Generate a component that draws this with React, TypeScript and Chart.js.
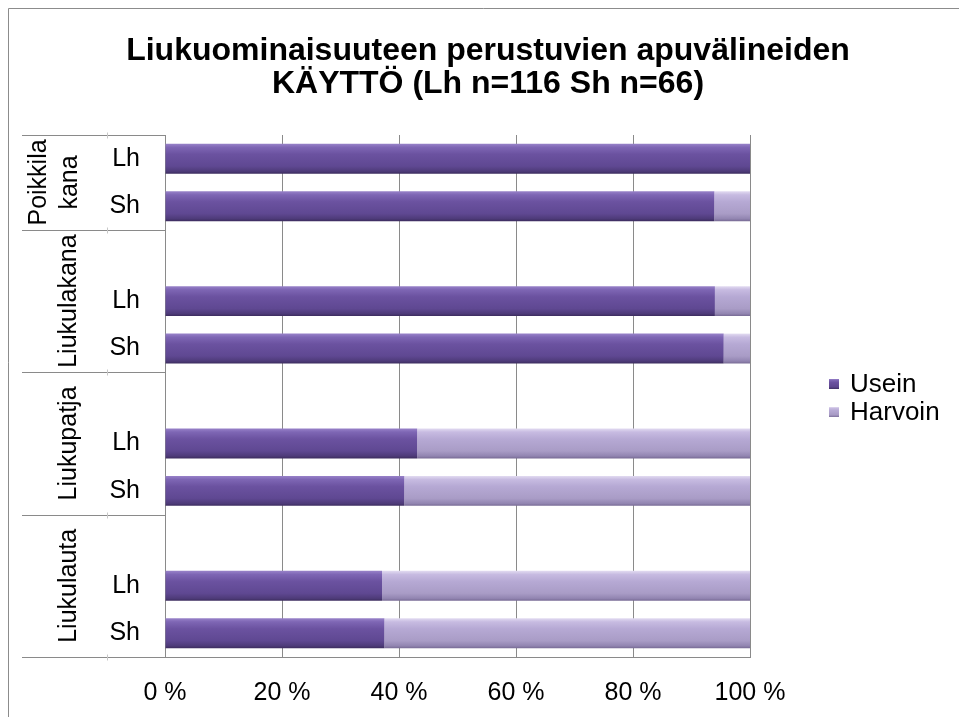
import React, { useEffect, useRef } from "react";
import { Chart, registerables } from "chart.js";

Chart.register(...registerables);

// ---- data ----
const titleLines = ["Liukuominaisuuteen perustuvien apuvälineiden", "KÄYTTÖ (Lh n=116 Sh n=66)"];
const rowLabels = ["Lh", "Sh", "", "Lh", "Sh", "", "Lh", "Sh", "", "Lh", "Sh"];
const groupLabelLines = [["Poikkila", "kana"], ["Liukulakana"], ["Liukupatja"], ["Liukulauta"]];
const groupFirstRow = [0, 2, 5, 8];
const groupLastRow = [1, 4, 7, 10];
const useinValues = [100, 93.9, null, 94.0, 95.5, null, 43.1, 40.9, null, 37.1, 37.5];
const harvoinValues = [0, 6.1, null, 6.0, 4.5, null, 56.9, 59.1, null, 62.9, 62.5];
const seriesNames = ["Usein", "Harvoin"];
const xTickValues = [0, 20, 40, 60, 80, 100];

const FONT = "'Liberation Sans', Arial, sans-serif";
const GRID = "#8a8a8a";

const useinStops: [number, string][] = [
  [0, "#9882c9"], [0.12, "#7e66b4"], [0.35, "#6b52a0"], [0.75, "#5f4892"], [0.92, "#4e3b79"], [1, "#3c2c5e"],
];
const harvoinStops: [number, string][] = [
  [0, "#e2dbf1"], [0.12, "#c7bbe1"], [0.35, "#b6a9d4"], [0.75, "#a99cc6"], [0.92, "#9285b1"], [1, "#776a94"],
];

const BAR_FRACTION = 0.63;

function barFill(stops: [number, string][]) {
  return (ctx: any) => {
    const chart = ctx.chart;
    const y = chart.scales && chart.scales.y;
    if (ctx.type !== "data" || !y || !chart.chartArea) return stops[2][1];
    const c = y.getPixelForValue(ctx.dataIndex);
    const h = (y.height / rowLabels.length) * BAR_FRACTION;
    const g = chart.ctx.createLinearGradient(0, c - h / 2, 0, c + h / 2);
    stops.forEach(([o, col]) => g.addColorStop(o, col));
    return g;
  };
}

const decorPlugin = {
  id: "decor",
  beforeDraw(chart: any) {
    const { ctx, width, height } = chart;
    ctx.save();
    ctx.fillStyle = "#ffffff";
    ctx.fillRect(0, 0, width, height);
    ctx.strokeStyle = "#8c8c8c";
    ctx.lineWidth = 1;
    ctx.beginPath();
    ctx.moveTo(8.5, height);
    ctx.lineTo(8.5, 8.5);
    ctx.lineTo(width, 8.5);
    ctx.stroke();
    ctx.restore();
  },
  afterDraw(chart: any) {
    const { ctx, chartArea } = chart;
    const y = chart.scales.y;
    const rowH = y.height / rowLabels.length;
    ctx.save();
    // title
    ctx.fillStyle = "#000";
    ctx.font = `bold 32px ${FONT}`;
    ctx.textAlign = "center";
    ctx.textBaseline = "middle";
    titleLines.forEach((t, i) => ctx.fillText(t, 488, 51 + i * 33));

    // table lines on the category axis
    const left = 22;
    const mid = 107.5;
    ctx.strokeStyle = GRID;
    ctx.lineWidth = 1;
    const bounds: number[] = [];
    groupFirstRow.forEach((r) => bounds.push(y.getPixelForValue(r) - rowH / 2));
    bounds.push(y.getPixelForValue(groupLastRow[groupLastRow.length - 1]) + rowH / 2);
    bounds.forEach((b) => {
      const yy = Math.round(b) + 0.5;
      ctx.beginPath();
      ctx.moveTo(left, yy);
      ctx.lineTo(chartArea.left, yy);
      ctx.stroke();
      ctx.strokeStyle = "#c8c8c8";
      ctx.beginPath();
      ctx.moveTo(mid, yy - 3);
      ctx.lineTo(mid, yy + 3);
      ctx.stroke();
      ctx.strokeStyle = GRID;
    });

    // group labels (rotated)
    ctx.fillStyle = "#000";
    ctx.font = `25px ${FONT}`;
    ctx.textAlign = "center";
    ctx.textBaseline = "middle";
    groupLabelLines.forEach((lines, gi) => {
      const top = y.getPixelForValue(groupFirstRow[gi]) - rowH / 2;
      const bot = y.getPixelForValue(groupLastRow[gi]) + rowH / 2;
      const cy = (top + bot) / 2;
      const lh = 31;
      const baseX = lines.length > 1 ? 39 : 69;
      lines.forEach((ln, li) => {
        ctx.save();
        ctx.translate(baseX + li * lh, cy);
        ctx.rotate(-Math.PI / 2);
        ctx.fillText(ln, 0, 0);
        ctx.restore();
      });
    });

    // legend
    const legendStops = [useinStops, harvoinStops];
    seriesNames.forEach((name, i) => {
      const cy = 384 + i * 28;
      const bx = 829;
      const g = ctx.createLinearGradient(0, cy - 5, 0, cy + 5);
      legendStops[i].forEach(([o, col]: [number, string]) => g.addColorStop(o, col));
      ctx.fillStyle = g;
      ctx.fillRect(bx, cy - 5, 10, 10);
      ctx.fillStyle = "#000";
      ctx.font = `26px ${FONT}`;
      ctx.textAlign = "left";
      ctx.textBaseline = "middle";
      ctx.fillText(name, 850, cy + 1);
    });
    ctx.restore();
  },
};

export default function App() {
  const ref = useRef<HTMLCanvasElement | null>(null);

  useEffect(() => {
    if (!ref.current) return;
    const chart = new Chart(ref.current, {
      type: "bar",
      data: {
        labels: rowLabels,
        datasets: [
          {
            label: seriesNames[0],
            data: useinValues as any,
            backgroundColor: barFill(useinStops) as any,
            borderWidth: 0,
            categoryPercentage: 1,
            barPercentage: BAR_FRACTION,
          },
          {
            label: seriesNames[1],
            data: harvoinValues as any,
            backgroundColor: barFill(harvoinStops) as any,
            borderWidth: 0,
            categoryPercentage: 1,
            barPercentage: BAR_FRACTION,
          },
        ],
      },
      options: {
        indexAxis: "y",
        responsive: false,
        animation: false,
        devicePixelRatio: 1,
        layout: { padding: { left: 22, right: 209, top: 135, bottom: 0 } },
        plugins: {
          legend: { display: false },
          title: { display: false },
          tooltip: { enabled: false },
        },
        scales: {
          x: {
            stacked: true,
            min: 0,
            max: 100,
            afterBuildTicks: (scale: any) => {
              scale.ticks = xTickValues.map((v) => ({ value: v }));
            },
            ticks: {
              padding: 21,
              color: "#000",
              font: { family: FONT, size: 25 },
              callback: (v: any) => `${v} %`,
              maxRotation: 0,
            },
            grid: { color: GRID, lineWidth: 1, drawTicks: false },
            border: { color: GRID, width: 1 },
            afterFit: (scale: any) => {
              scale.height = 60;
              scale.paddingLeft = 0;
              scale.paddingRight = 0;
            },
          },
          y: {
            stacked: true,
            offset: true,
            ticks: {
              padding: 25,
              color: "#000",
              font: { family: FONT, size: 25 },
              autoSkip: false,
            },
            grid: { display: false, drawTicks: false },
            border: { color: GRID, width: 1 },
            afterFit: (scale: any) => {
              scale.width = 143;
              scale.paddingTop = 0;
              scale.paddingBottom = 0;
            },
          },
        },
      },
      plugins: [decorPlugin],
    });
    return () => chart.destroy();
  }, []);

  return (
    <div style={{ position: "fixed", left: 0, top: 0, width: 959, height: 717, background: "#fff" }}>
      <canvas ref={ref} width={959} height={717} style={{ display: "block" }} />
    </div>
  );
}
